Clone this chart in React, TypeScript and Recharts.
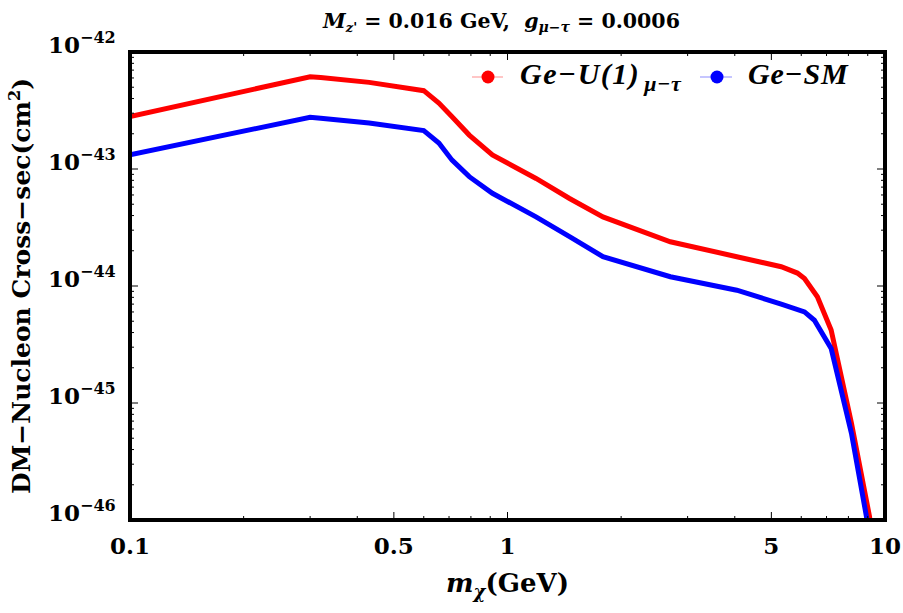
import { LineChart, Line, XAxis, YAxis, Legend, Label } from "recharts"

// Ge target, U(1)_{mu-tau} model
const redMass = [0.1, 0.3, 0.32, 0.43, 0.6, 0.658, 0.713, 0.792, 0.912, 1.19, 1.46, 1.79, 2.7, 4.05, 5.31, 5.86, 6.12, 6.62, 7.2, 8.15, 9.1, 9.3]
const redSigma = [2.8e-43, 6.15e-43, 6.05e-43, 5.5e-43, 4.67e-43, 3.66e-43, 2.8e-43, 1.95e-43, 1.32e-43, 8.3e-44, 5.6e-44, 3.9e-44, 2.39e-44, 1.78e-44, 1.46e-44, 1.29e-44, 1.16e-44, 8.1e-45, 4.2e-45, 6.7e-46, 1.07e-46, 6e-47]

// Ge target, SM
const blueMass = [0.1, 0.3, 0.32, 0.43, 0.6, 0.658, 0.713, 0.792, 0.912, 1.19, 1.46, 1.79, 2.7, 4.05, 5.31, 6.12, 6.5, 7.2, 8.15, 8.93, 9.15]
const blueSigma = [1.32e-43, 2.77e-43, 2.72e-43, 2.47e-43, 2.13e-43, 1.67e-43, 1.19e-43, 8.6e-44, 6.2e-44, 3.9e-44, 2.64e-44, 1.78e-44, 1.2e-44, 9.2e-45, 7.0e-45, 6.0e-45, 5.1e-45, 2.93e-45, 5.5e-46, 1.07e-46, 6e-47]

const xMajor = [0.1, 0.5, 1, 5, 10]
const xLabels = ["0.1", "0.5", "1", "5", "10"]
const xMinor = [0.2, 0.3, 0.4, 0.6, 0.7, 0.8, 0.9, 2, 3, 4, 6, 7, 8, 9]

const yMajor = [1e-46, 1e-45, 1e-44, 1e-43, 1e-42]
const yExponents = ["\u221246", "\u221245", "\u221244", "\u221243", "\u221242"]
const yMultipliers = [2, 3, 4, 5, 6, 7, 8, 9]

const legendNames = ["Ge\u2212U(1)", "Ge\u2212SM"]

const xDomain = [0.1, 10]
const yDomain = [1e-46, 1e-42]

const redData = redMass.map((m, i) => ({ m, s: redSigma[i] }))
const blueData = blueMass.map((m, i) => ({ m, s: blueSigma[i] }))
const xTicks = [...xMajor, ...xMinor]
const yTicks = [...yMajor, ...yMajor.slice(0, 4).flatMap((d) => yMultipliers.map((k) => k * d))]

const serif = "'DejaVu Serif', serif"
const times = "'Liberation Serif', serif"

// plot box in page pixels (matches the chart margins below)
const box = { left: 130, top: 52, width: 755, height: 468 }

function BottomTick({ x, y, payload }: any) {
  const i = xMajor.indexOf(payload.value)
  return (
    <g>
      <line x1={x} x2={x} y1={y} y2={y - (i >= 0 ? 8 : 4)} stroke="#000" strokeWidth={1} />
      {i >= 0 && (
        <text x={x} y={y + 34} textAnchor="middle" fontFamily={serif} fontWeight="bold" fontSize={23} fill="#000">
          {xLabels[i]}
        </text>
      )}
    </g>
  )
}

function TopTick({ x, y, payload }: any) {
  const major = xMajor.includes(payload.value)
  return <line x1={x} x2={x} y1={y} y2={y + (major ? 8 : 4)} stroke="#000" strokeWidth={1} />
}

function LeftTick({ x, y, payload }: any) {
  const i = yMajor.indexOf(payload.value)
  return (
    <g>
      <line x1={x} x2={x + (i >= 0 ? 8 : 4)} y1={y} y2={y} stroke="#000" strokeWidth={1} />
      {i >= 0 && (
        <text x={x - 82} y={y + 1} fontFamily={serif} fontWeight="bold" fontSize={23} fill="#000">
          10
          <tspan dy={-10} fontSize={16}>{yExponents[i]}</tspan>
        </text>
      )}
    </g>
  )
}

function RightTick({ x, y, payload }: any) {
  const major = yMajor.includes(payload.value)
  return <line x1={x} x2={x - (major ? 8 : 4)} y1={y} y2={y} stroke="#000" strokeWidth={1} />
}

function XTitle({ viewBox }: any) {
  const cx = viewBox.x + viewBox.width / 2
  return (
    <text x={cx} y={viewBox.y + 72} textAnchor="middle" fontFamily={serif} fontWeight="bold" fontSize={26} fill="#000">
      <tspan fontStyle="italic">m</tspan>
      <tspan dy={6} fontSize={18} fontStyle="italic">{"\u03c7"}</tspan>
      <tspan dy={-6}>(GeV)</tspan>
    </text>
  )
}

function YTitle({ viewBox }: any) {
  const cy = viewBox.y + viewBox.height / 2
  return (
    <text x={30} y={cy} transform={`rotate(-90 30 ${cy})`} textAnchor="middle" fontFamily={serif} fontWeight="bold" fontSize={25} fill="#000">
      DM{"\u2212"}Nucleon Cross{"\u2212"}sec(cm
      <tspan dy={-10} fontSize={16}>2</tspan>
      <tspan dy={10}>)</tspan>
    </text>
  )
}

function PlotTitle({ viewBox }: any) {
  const cx = viewBox.x + viewBox.width / 2 - 6
  return (
    <text x={cx} y={28} textAnchor="middle" fontFamily={serif} fontWeight="bold" fontSize={20.5} fill="#000" style={{ whiteSpace: "pre" }}>
      <tspan fontStyle="italic">M</tspan>
      <tspan dy={4} fontSize={13} fontStyle="italic">z'</tspan>
      <tspan dy={-4}>{" = 0.016 GeV,  "}</tspan>
      <tspan fontStyle="italic">g</tspan>
      <tspan dy={4} fontSize={14} fontStyle="italic">{"\u03bc\u2212\u03c4"}</tspan>
      <tspan dy={-4}>{" = 0.0006"}</tspan>
    </text>
  )
}

function LegendBox() {
  return (
    <svg width={420} height={44} style={{ display: "block", overflow: "visible" }}>
      <line x1={12} x2={43} y1={22} y2={22} stroke="#ff0000" strokeOpacity={0.3} strokeWidth={1.5} />
      <circle cx={28} cy={22} r={6.5} fill="#ff0000" />
      <text x={60} y={29} fontFamily={times} fontWeight="bold" fontStyle="italic" fontSize={30} letterSpacing={1.5} fill="#000">
        {legendNames[0]}
        <tspan dx={4} dy={7} fontSize={22} letterSpacing={0.5}>{"\u03bc\u2212\u03c4"}</tspan>
      </text>
      <line x1={240} x2={272} y1={22} y2={22} stroke="#0000ff" strokeOpacity={0.3} strokeWidth={1.5} />
      <circle cx={257} cy={22} r={6.5} fill="#0000ff" />
      <text x={288} y={29} fontFamily={times} fontWeight="bold" fontStyle="italic" fontSize={30} letterSpacing={0.8} fill="#000">
        {legendNames[1]}
      </text>
    </svg>
  )
}

export default function App() {
  return (
    <div style={{ position: "absolute", left: 0, top: 0, width: 903, height: 613, background: "#fff" }}>
      <LineChart width={903} height={613} margin={{ top: 50, right: 16, bottom: 0, left: 0 }}>
        <Legend
          layout="horizontal"
          verticalAlign="middle"
          align="center"
          content={<LegendBox />}
          wrapperStyle={{ top: 55, left: 460, width: 420, height: 44 }}
        />
        <Line data={redData} dataKey="s" name={legendNames[0]} type="linear" stroke="#ff0000" strokeWidth={5} dot={false} isAnimationActive={false} />
        <Line data={blueData} dataKey="s" name={legendNames[1]} type="linear" stroke="#0000ff" strokeWidth={5} dot={false} isAnimationActive={false} />
        <XAxis
          dataKey="m"
          type="number"
          scale="log"
          domain={xDomain}
          allowDataOverflow
          ticks={xTicks}
          interval={0}
          tickSize={0}
          tickMargin={0}
          tickLine={false}
          tick={<BottomTick />}
          height={93}
          axisLine={false}
        >
          <Label content={<XTitle />} />
        </XAxis>
        <XAxis
          xAxisId="top"
          orientation="top"
          dataKey="m"
          type="number"
          scale="log"
          domain={xDomain}
          allowDataOverflow
          ticks={xTicks}
          interval={0}
          tickSize={0}
          tickMargin={0}
          tickLine={false}
          tick={<TopTick />}
          height={2}
          axisLine={false}
        >
          <Label content={<PlotTitle />} />
        </XAxis>
        <YAxis
          type="number"
          scale="log"
          domain={yDomain}
          allowDataOverflow
          ticks={yTicks}
          interval={0}
          tickSize={0}
          tickMargin={0}
          tickLine={false}
          tick={<LeftTick />}
          width={130}
          axisLine={false}
        >
          <Label content={<YTitle />} />
        </YAxis>
        <YAxis
          yAxisId="right"
          orientation="right"
          type="number"
          scale="log"
          domain={yDomain}
          allowDataOverflow
          ticks={yTicks}
          interval={0}
          tickSize={0}
          tickMargin={0}
          tickLine={false}
          tick={<RightTick />}
          width={2}
          axisLine={false}
        />
      </LineChart>
      <div
        style={{
          position: "absolute",
          left: box.left - 2,
          top: box.top - 2,
          width: box.width + 4,
          height: box.height + 4,
          border: "4px solid #000",
          boxSizing: "border-box",
          pointerEvents: "none",
          zIndex: 10,
        }}
      />
    </div>
  )
}
